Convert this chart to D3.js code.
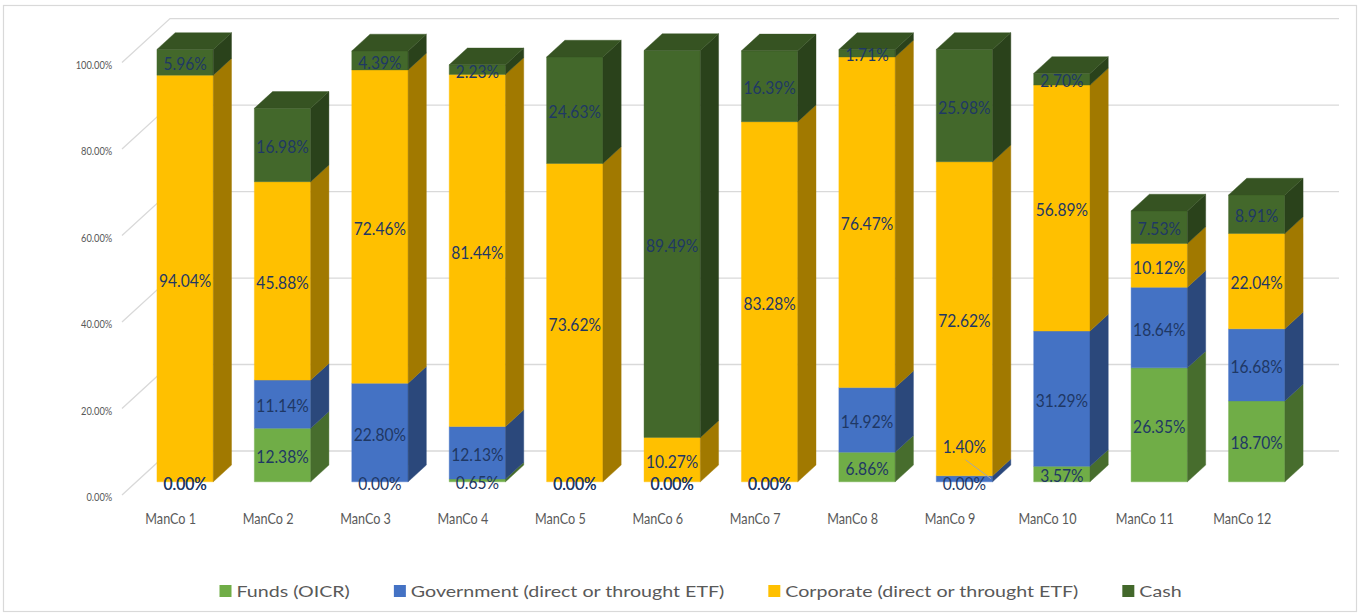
<!DOCTYPE html>
<html>
<head>
<meta charset="utf-8">
<script src="https://cdn.jsdelivr.net/npm/d3@7"></script>
<style>
  html, body { margin: 0; padding: 0; background: #ffffff; }
  svg { display: block; font-family: Lato, "Open Sans", "Noto Sans", sans-serif; }
</style>
</head>
<body>
<svg id="chart" width="1359" height="615"></svg>
<script>
// ---- data ----
const categories = ["ManCo 1", "ManCo 2", "ManCo 3", "ManCo 4", "ManCo 5", "ManCo 6",
                    "ManCo 7", "ManCo 8", "ManCo 9", "ManCo 10", "ManCo 11", "ManCo 12"];
const funds      = [0, 12.38, 0, 0.65, 0, 0, 0, 6.86, 0, 3.57, 26.35, 18.70];
const government = [0, 11.14, 22.80, 12.13, 0, 0, 0, 14.92, 1.40, 31.29, 18.64, 16.68];
const corporate  = [94.04, 45.88, 72.46, 81.44, 73.62, 10.27, 83.28, 76.47, 72.62, 56.89, 10.12, 22.04];
const cash       = [5.96, 16.98, 4.39, 2.23, 24.63, 89.49, 16.39, 1.71, 25.98, 2.70, 7.53, 8.91];
const seriesKeys   = ["funds", "government", "corporate", "cash"];
const seriesNames  = ["Funds (OICR)", "Government (direct or throught ETF)",
                      "Corporate (direct or throught ETF)", "Cash"];
const seriesColors = ["#70AD47", "#4472C4", "#FFC000", "#43682B"];
const yTicks = [0, 20, 40, 60, 80, 100];

const rows = categories.map((c, i) => ({
  category: c, funds: funds[i], government: government[i], corporate: corporate[i], cash: cash[i]
}));

// ---- 3D geometry ----
const svg = d3.select("#chart");
const frontLeft = 122, frontRight = 1291;
const depth = { dx: 48, dy: -44 };      // full floor depth vector
const barT0 = 0.30, barT1 = 0.68;        // bar front / back depth fractions

const x = d3.scaleBand().domain(categories)
  .range([frontLeft, frontRight]).paddingInner(0.422).paddingOuter(0.211);
const y = d3.scaleLinear().domain([0, 100]).range([495, 62.6]);

const P = (xf, v, t) => [xf + t * depth.dx, y(v) + t * depth.dy];
const poly = pts => "M" + pts.map(p => p[0].toFixed(2) + "," + p[1].toFixed(2)).join("L") + "Z";

// horizontal text compression so widths follow the chart's narrow face
function textScale(cls, size, ref, target) {
  const t = svg.append("text").attr("class", cls).style("font-size", size + "px").text(ref);
  const w = t.node().getComputedTextLength();
  t.remove();
  return target / w;
}
function fit(sel, k) {
  sel.each(function () {
    const w = this.getComputedTextLength();
    d3.select(this).attr("textLength", w * k).attr("lengthAdjust", "spacingAndGlyphs");
  });
}

// outer frame
svg.append("rect").attr("x", 3.5).attr("y", 5.5).attr("width", 1353).attr("height", 606)
  .attr("fill", "#ffffff").attr("stroke", "#d9d9d9").attr("stroke-width", 1.2);

// ---- walls: back gridlines and left-wall diagonals ----
const grid = svg.append("g").attr("stroke", "#d9d9d9").attr("stroke-width", 1.3).attr("fill", "none");
yTicks.forEach(v => {
  const a = P(frontLeft, v, 1), b = P(frontRight, v, 1), f = P(frontLeft, v, 0);
  grid.append("path").attr("d", `M${f[0]},${f[1]}L${a[0]},${a[1]}L${b[0]},${b[1]}`);
});

// value axis labels
const kAxis = textScale("axis", 11.5, "100.00%", 36.6);
const axisG = svg.append("g");
axisG.selectAll("text").data(yTicks).join("text")
  .attr("class", "axis")
  .attr("x", frontLeft - 9.7).attr("y", d => y(d) + 6)
  .attr("text-anchor", "end").attr("fill", "#595959").style("font-size", "11.5px")
  .text(d => d.toFixed(2) + "%")
  .call(fit, kAxis);

// ---- stacked 3D bars ----
const stack = d3.stack().keys(seriesKeys)(rows);
const shade = (c, f) => { const r = d3.rgb(c); return d3.rgb(r.r * f, r.g * f, r.b * f).formatHex(); };

const barsG = svg.append("g");
categories.forEach((cat, i) => {
  const bx = x(cat), bw = x.bandwidth();
  const g = barsG.append("g");
  let topIdx = -1;
  stack.forEach((s, k) => { if (s[i][1] - s[i][0] > 0) topIdx = k; });
  stack.forEach((s, k) => {
    const v0 = s[i][0], v1 = s[i][1];
    if (v1 - v0 <= 0) return;
    const col = seriesColors[k];
    const front = [P(bx, v0, barT0), P(bx + bw, v0, barT0), P(bx + bw, v1, barT0), P(bx, v1, barT0)];
    const side = [P(bx + bw, v0, barT0), P(bx + bw, v0, barT1), P(bx + bw, v1, barT1), P(bx + bw, v1, barT0)];
    g.append("path").attr("d", poly(front)).attr("fill", col).attr("stroke", col).attr("stroke-width", 0.4);
    const sc = shade(col, 0.63);
    g.append("path").attr("d", poly(side)).attr("fill", sc).attr("stroke", sc).attr("stroke-width", 0.4);
    if (k === topIdx) {
      const top = [P(bx, v1, barT0), P(bx + bw, v1, barT0), P(bx + bw, v1, barT1), P(bx, v1, barT1)];
      const tc = shade(col, 0.8);
      g.append("path").attr("d", poly(top)).attr("fill", tc).attr("stroke", tc).attr("stroke-width", 0.4);
    }
  });
});

// ---- data labels ----
const kLab = textScale("lab", 17.5, "5.96%", 43.3);
const labelsG = svg.append("g");
categories.forEach((cat, i) => {
  const cx = x(cat) + x.bandwidth() / 2 + barT0 * depth.dx;
  const right = x(cat) + x.bandwidth() + barT0 * depth.dx;
  let prevY = null;
  stack.forEach((s, k) => {
    const v0 = s[i][0], v1 = s[i][1], val = v1 - v0;
    const mid = y((v0 + v1) / 2) + barT0 * depth.dy;
    let ly = mid + 2;
    if (prevY !== null && Math.abs(ly - prevY) < 14 && val > 0) {
      // crowded thin segment: lift the label and point back with a leader line
      const lifted = ly - 34;
      labelsG.append("line")
        .attr("x1", cx + 1).attr("y1", lifted + 13)
        .attr("x2", right - 1.5).attr("y2", mid)
        .attr("stroke", "#a6a6a6").attr("stroke-width", 1);
      ly = lifted;
    }
    labelsG.append("text").attr("class", "lab")
      .attr("x", cx).attr("y", ly).attr("dy", "0.35em")
      .attr("text-anchor", "middle").attr("fill", "#1F3864").style("font-size", "17.5px")
      .text(val.toFixed(2) + "%")
      .call(fit, kLab);
    prevY = ly;
  });
});

// ---- category labels ----
const kCat = textScale("cat", 15, "ManCo 1", 50.7);
svg.append("g").selectAll("text").data(categories).join("text")
  .attr("class", "cat")
  .attr("x", d => x(d) + x.bandwidth() / 2).attr("y", 524)
  .attr("text-anchor", "middle").attr("fill", "#595959").style("font-size", "15px")
  .text(d => d)
  .call(fit, kCat);

// ---- legend ----
const kLeg = textScale("leg", 16, "Corporate (direct or throught ETF)", 293);
const legend = svg.append("g");
let lx = 219.5;
seriesNames.forEach((name, k) => {
  legend.append("rect").attr("x", lx).attr("y", 585).attr("width", 12).attr("height", 12)
    .attr("fill", seriesColors[k]);
  const t = legend.append("text").attr("class", "leg")
    .attr("x", lx + 17).attr("y", 597).attr("fill", "#595959").style("font-size", "16px")
    .text(name);
  t.call(fit, kLeg);
  lx += 17 + (+t.attr("textLength")) + 44;
});
</script>
</body>
</html>
